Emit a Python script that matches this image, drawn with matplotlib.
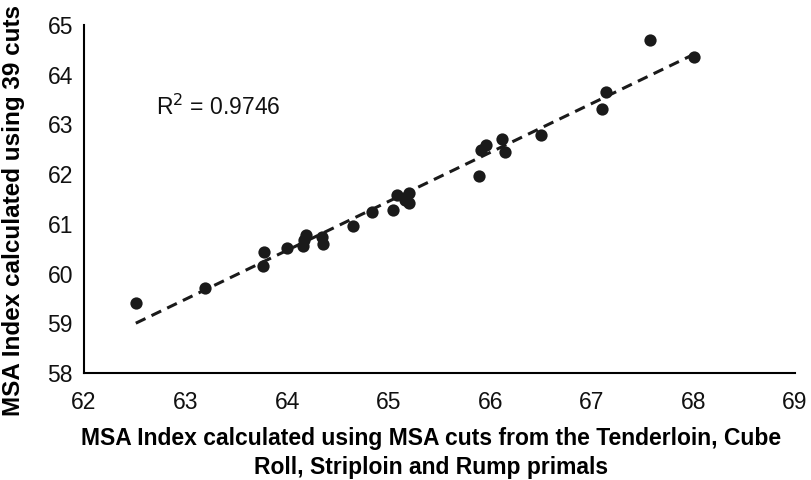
import numpy as np
import matplotlib
matplotlib.use('Agg')
import matplotlib.pyplot as plt

plt.rcParams['font.family'] = ['Liberation Sans', 'DejaVu Sans']

# MSA index from the four primals (x) vs from all 39 cuts (y)
msa_primals = [62.51, 63.19, 63.77, 63.76, 64.00, 64.16, 64.19, 64.17, 64.34, 64.35,
               64.65, 64.84, 65.04, 65.08, 65.16, 65.20, 65.20, 65.89, 65.91, 65.96,
               66.12, 66.14, 66.50, 67.10, 67.14, 67.57, 68.01]
msa_39cuts = [59.41, 59.70, 60.44, 60.15, 60.51, 60.55, 60.78, 60.68, 60.74, 60.60,
              60.96, 61.23, 61.27, 61.58, 61.48, 61.63, 61.41, 61.97, 62.49, 62.59,
              62.71, 62.44, 62.78, 63.31, 63.65, 64.69, 64.35]
r2_text = 'R$^2$ = 0.9746'

x = np.array(msa_primals)
y = np.array(msa_39cuts)

fig = plt.figure(figsize=(8.12, 4.8), dpi=100)
ax = fig.add_axes([84/812, 1-373/480, (795-84)/812, (373-25)/480])

ax.scatter(x, y, s=78, color='#1a1a1a', zorder=3, linewidths=0)

# linear trend line
m, b = np.polyfit(x, y, 1)
xl = np.array([x.min(), x.max()])
ax.plot(xl, m*xl + b, color='#1a1a1a', lw=2.2, ls=(0, (3.5, 2.2)), zorder=2)

ax.text(62.71, 63.35, r2_text, fontsize=16.5, va='center', ha='left', color='#111111')

ax.set_xlim(62, 69)
ax.set_ylim(58, 65)
ax.set_xticks(range(62, 70))
ax.set_yticks(range(58, 66))
ax.tick_params(length=0, labelsize=16.5, colors='#111111')
ax.tick_params(axis='x', pad=13)
ax.tick_params(axis='y', pad=8)
for s in ['top', 'right']:
    ax.spines[s].set_visible(False)
for s in ['left', 'bottom']:
    ax.spines[s].set_linewidth(1.5)

ax.set_xlabel('MSA Index calculated using MSA cuts from the Tenderloin, Cube\nRoll, Striploin and Rump primals',
              fontsize=16.5, fontweight='bold', linespacing=1.3)
ax.xaxis.set_label_coords((431-84)/(795-84), -(453-373)/348)
ax.xaxis.label.set_va('center')
ax.set_ylabel('MSA Index calculated using 39 cuts', fontsize=17.5, fontweight='bold')
ax.yaxis.set_label_coords(-(84-14)/711, (373-211)/348)
ax.yaxis.label.set_va('center')

fig.savefig('out.png', dpi=100)
